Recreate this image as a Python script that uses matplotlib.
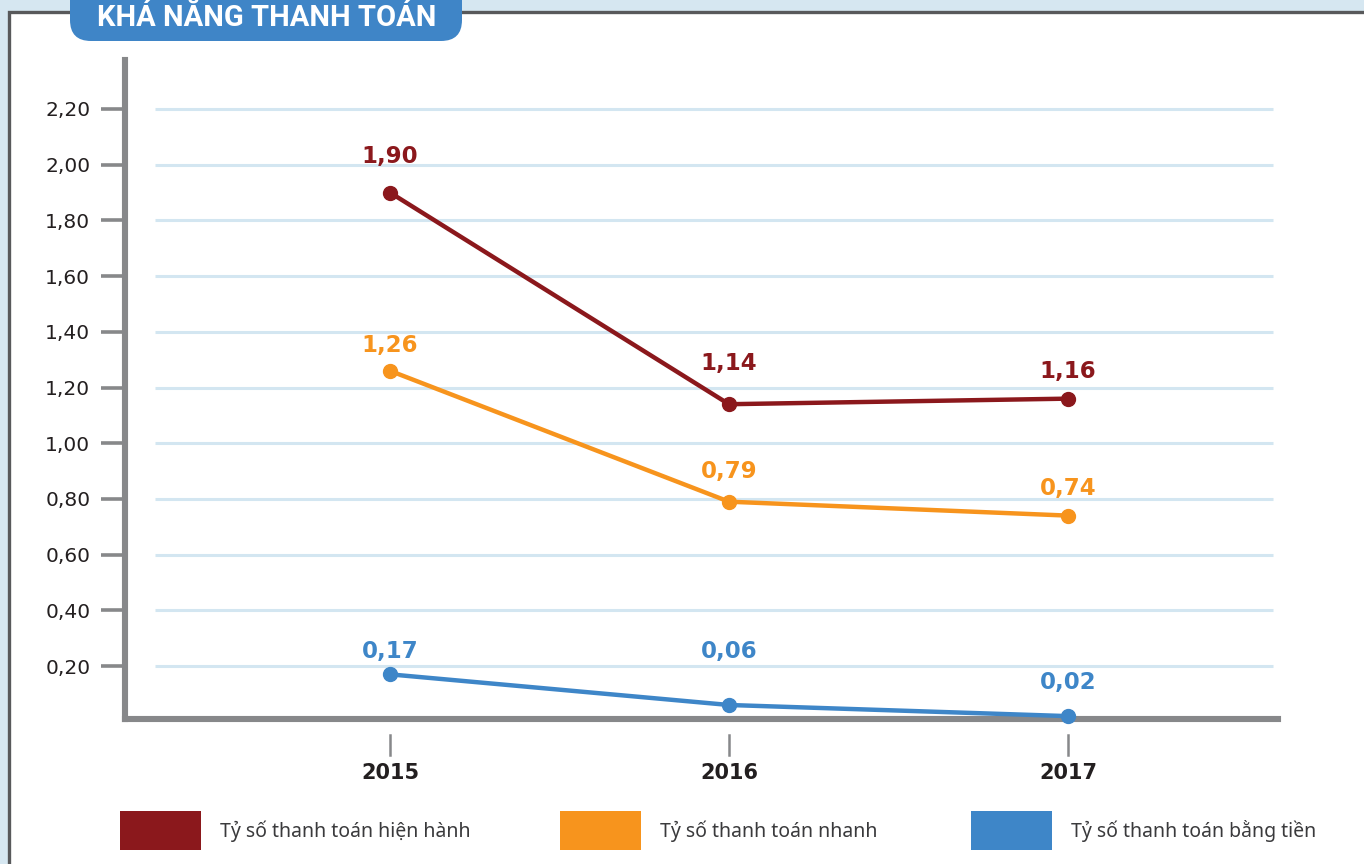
import matplotlib
matplotlib.use("Agg")
import matplotlib.pyplot as plt
from matplotlib.patches import Rectangle, FancyBboxPatch
from matplotlib.lines import Line2D
import matplotlib.transforms as mtrans

# ---- data ----
years = [2015, 2016, 2017]
series_names = ["Tỷ số thanh toán hiện hành", "Tỷ số thanh toán nhanh", "Tỷ số thanh toán bằng tiền"]
current_ratio = [1.90, 1.14, 1.16]
quick_ratio = [1.26, 0.79, 0.74]
cash_ratio = [0.17, 0.06, 0.02]
y_ticks = [0.20, 0.40, 0.60, 0.80, 1.00, 1.20, 1.40, 1.60, 1.80, 2.00, 2.20]
title = "KHÁ NĂNG THANH TOÁN"

# ---- styles ----
colors = ["#8b181c", "#f7941d", "#3e86c8"]
label_offsets_px = [[36, 41, 27], [25, 30, 27], [23, 53, 34]]
W, H = 1364, 864
DPI = 100

fig = plt.figure(figsize=(W / DPI, H / DPI), dpi=DPI)
fig.patch.set_facecolor("#d6e7f1")

# background / decoration axes in pixel coordinates
bg = fig.add_axes([0, 0, 1, 1], zorder=0)
bg.set_xlim(0, W)
bg.set_ylim(H, 0)
bg.axis("off")
bg.add_patch(Rectangle((8.5, 11.5), W, H, facecolor="white", edgecolor="#58595b", linewidth=2.4))
bg.add_patch(FancyBboxPatch((70, -30), 392, 71, boxstyle="round,pad=0,rounding_size=21",
                            facecolor="#3f85c7", edgecolor="none"))
bg.text(267, 18, title, color="white", fontsize=21, fontweight="bold",
        family=["Roboto", "DejaVu Sans"], ha="center", va="center")

# main axes
left_px, right_px, top_px, bottom_px = 125, 1278, 60, 719
ax = fig.add_axes([left_px / W, (H - bottom_px) / H, (right_px - left_px) / W, (bottom_px - top_px) / H], zorder=1)
ax.patch.set_alpha(0)
x_per_year = 339.0
xmin = 2015 - (390 - left_px) / x_per_year
xmax = 2017 + (right_px - 1068) / x_per_year
ax.set_xlim(xmin, xmax)
px_per_unit = 278.5
ymin = (721.7 - bottom_px) / px_per_unit
ymax = (721.7 - top_px) / px_per_unit
ax.set_ylim(ymin, ymax)

for s in ["top", "right"]:
    ax.spines[s].set_visible(False)
for s in ["left", "bottom"]:
    ax.spines[s].set_color("#87888a")
    ax.spines[s].set_linewidth(4.4)
    ax.spines[s].set_capstyle("projecting")

ax.set_yticks(y_ticks)
ax.set_yticklabels([f"{v:.2f}".replace(".", ",") for v in y_ticks],
                   fontsize=14.5, color="#231f20", family=["DejaVu Sans"])
ax.tick_params(axis="y", length=17, width=2.6, color="#87888a", pad=8)
ax.set_xticks([])

# gridlines
g_x0 = xmin + 30 / x_per_year
g_x1 = xmin + (1273 - left_px) / x_per_year
ax.hlines(y_ticks, g_x0, g_x1, color="#d3e6f1", linewidth=2.2, zorder=1)

# x ticks (detached) and labels
trans = mtrans.blended_transform_factory(ax.transData, ax.transAxes)
for yr in years:
    ax.add_line(Line2D([yr, yr], [-(735 - bottom_px) / (bottom_px - top_px), -(755 - bottom_px) / (bottom_px - top_px)],
                       transform=trans, color="#87888a", linewidth=1.8, clip_on=False))
    ax.text(yr, -(773 - bottom_px) / (bottom_px - top_px), str(yr), transform=trans, ha="center", va="center",
            fontsize=15, fontweight="bold", color="#231f20", family=["DejaVu Sans"])

# series
all_series = [current_ratio, quick_ratio, cash_ratio]
for vals, c, offs in zip(all_series, colors, label_offsets_px):
    ax.plot(years, vals, color=c, linewidth=3.2, marker="o", markersize=10, zorder=3, clip_on=False)
    for x, v, o in zip(years, vals, offs):
        ax.annotate(f"{v:.2f}".replace(".", ","), (x, v), xytext=(0, o * 0.72), textcoords="offset points",
                    ha="center", va="center", fontsize=16.5, fontweight="bold", color=c,
                    family=["DejaVu Sans"], zorder=4)

# legend
legend_sq_x = [120, 560, 971]
for name, c, lx in zip(series_names, colors, legend_sq_x):
    bg.add_patch(Rectangle((lx, 811), 81, 39, facecolor=c, edgecolor="none"))
    bg.text(lx + 100, 831, name, fontsize=14, color="#3a3a3c", ha="left", va="center",
            family=["Noto Sans", "DejaVu Sans"])

fig.savefig("out.png", dpi=DPI)
